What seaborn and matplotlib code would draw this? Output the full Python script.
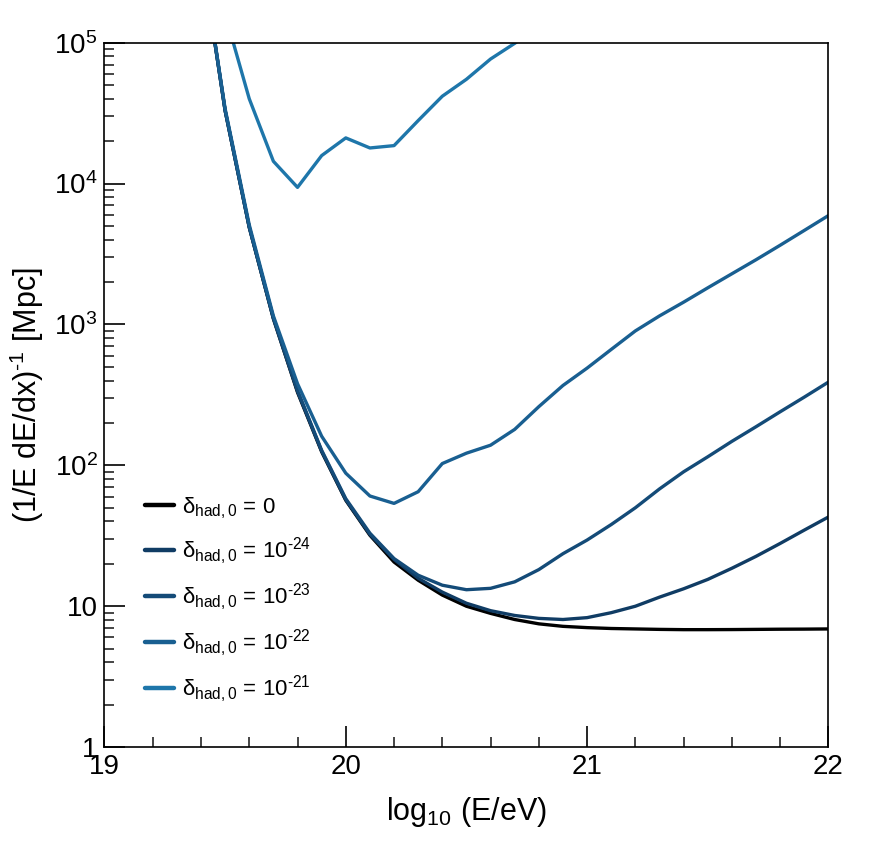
import numpy as np
import pandas as pd
import matplotlib
matplotlib.use("Agg")
import matplotlib.pyplot as plt
from matplotlib.ticker import FixedLocator, FuncFormatter, LogLocator, NullFormatter
import seaborn as sns

# energy grid, log10(E/eV)
log_e = [19.4, 19.5, 19.6, 19.7, 19.8, 19.9, 20.0, 20.1, 20.2, 20.3, 20.4, 20.5, 20.6, 20.7,
         20.8, 20.9, 21.0, 21.1, 21.2, 21.3, 21.4, 21.5, 21.6, 21.7, 21.8, 21.9, 22.0]

# energy loss length [Mpc] for each delta_had,0
len_0 = [4.5e5, 3.3e4, 4.9e3, 1.1e3, 330, 125, 56.5, 31.9, 20.6, 15.3, 12.0, 10.0, 8.9, 8.05,
         7.5, 7.2, 7.05, 6.95, 6.9, 6.85, 6.82, 6.82, 6.83, 6.85, 6.87, 6.88, 6.9]
len_24 = [4.5e5, 3.3e4, 4.9e3, 1.1e3, 335, 126, 57, 32.3, 21.5, 15.8, 12.6, 10.5, 9.3, 8.6,
          8.2, 8.05, 8.3, 9.0, 10.0, 11.6, 13.3, 15.5, 18.6, 22.6, 27.9, 34.7, 43]
len_23 = [4.5e5, 3.3e4, 4.9e3, 1.12e3, 340, 128, 58, 33, 21.8, 16.6, 14.1, 13.1, 13.4, 14.9,
          18.2, 23.6, 29.5, 38, 50, 68, 90, 115, 148, 188, 240, 305, 390]
len_22 = [4.5e5, 3.4e4, 5.1e3, 1.15e3, 380, 161, 88, 60.6, 53.7, 65, 103, 122, 139, 180,
          261, 369, 490, 665, 900, 1150, 1440, 1820, 2290, 2880, 3650, 4650, 5930]
log_e_21 = [19.5, 19.6, 19.7, 19.8, 19.9, 20.0, 20.1, 20.2, 20.3, 20.4, 20.5, 20.6, 20.7, 20.8]
len_21 = [1.6e5, 4.0e4, 1.44e4, 9.4e3, 1.58e4, 2.11e4, 1.79e4, 1.86e4, 2.8e4, 4.17e4,
          5.5e4, 7.66e4, 9.9e4, 1.3e5]

labels = [r"δ$_{\mathrm{had,0}}$ = 0",
          r"δ$_{\mathrm{had,0}}$ = 10$^{\text{-24}}$",
          r"δ$_{\mathrm{had,0}}$ = 10$^{\text{-23}}$",
          r"δ$_{\mathrm{had,0}}$ = 10$^{\text{-22}}$",
          r"δ$_{\mathrm{had,0}}$ = 10$^{\text{-21}}$"]
colors = ["#000000", "#103c64", "#144b78", "#195f91", "#1e76aa"]

frames = []
for lab, xs, ys in zip(labels, [log_e, log_e, log_e, log_e, log_e_21],
                       [len_0, len_24, len_23, len_22, len_21]):
    frames.append(pd.DataFrame({"logE": xs, "length": ys, "delta": lab}))
df = pd.concat(frames, ignore_index=True)

sns.set_style("white")
plt.rcParams["font.family"] = ["Liberation Sans", "DejaVu Sans"]
plt.rcParams["mathtext.fontset"] = "custom"
plt.rcParams["mathtext.rm"] = "Liberation Sans"
plt.rcParams["mathtext.it"] = "Liberation Sans:italic"
plt.rcParams["mathtext.bf"] = "Liberation Sans:bold"
plt.rcParams["mathtext.default"] = "regular"
plt.rcParams["axes.unicode_minus"] = False
plt.rcParams["text.color"] = "black"
plt.rcParams["axes.labelcolor"] = "black"

fig = plt.figure(figsize=(8.72, 8.49), dpi=100)
ax = fig.add_axes([0.1198, 0.120, 0.8302, 0.8297])

sns.lineplot(data=df, x="logE", y="length", hue="delta", palette=colors,
             hue_order=labels, estimator=None, sort=False, linewidth=2.4, ax=ax)

ax.set_yscale("log")
ax.set_xlim(19, 22)
ax.set_ylim(1, 1e5)

ax.xaxis.set_major_locator(FixedLocator([19, 20, 21, 22]))
ax.xaxis.set_minor_locator(FixedLocator(np.arange(19.2, 22, 0.2)))
ax.yaxis.set_major_locator(FixedLocator([1, 10, 100, 1e3, 1e4, 1e5]))
ax.yaxis.set_minor_locator(LogLocator(base=10, subs=np.arange(2, 10)))
ax.yaxis.set_minor_formatter(NullFormatter())


def ytick_fmt(v, pos):
    p = int(round(np.log10(v)))
    if p == 0:
        return "1"
    if p == 1:
        return "10"
    return r"10$^{%d}$" % p


ax.yaxis.set_major_formatter(FuncFormatter(ytick_fmt))
ax.xaxis.set_major_formatter(FuncFormatter(lambda v, pos: "%d" % v))

ax.tick_params(which="major", direction="in", length=15, width=1.2, labelsize=20,
               pad=5, colors="black", top=False, right=False, bottom=True, left=True)
ax.tick_params(which="minor", direction="in", length=7.5, width=1.2,
               top=False, right=False, bottom=True, left=True)
for s in ax.spines.values():
    s.set_color("black")
    s.set_linewidth(1.2)

ax.set_xlabel(r"log$_{10}$ (E/eV)", fontsize=22, labelpad=11)
ax.set_ylabel(r"(1/E dE/dx)$^{\text{-1}}$ [Mpc]", fontsize=22, labelpad=6)

leg = ax.legend(loc="upper left", bbox_to_anchor=(0.044, 0.37), frameon=False,
                fontsize=16, handlelength=1.3, handletextpad=0.36, labelspacing=0.66,
                borderaxespad=0)
for line in leg.get_lines():
    line.set_linewidth(3.2)

fig.savefig("out.png", dpi=100)
